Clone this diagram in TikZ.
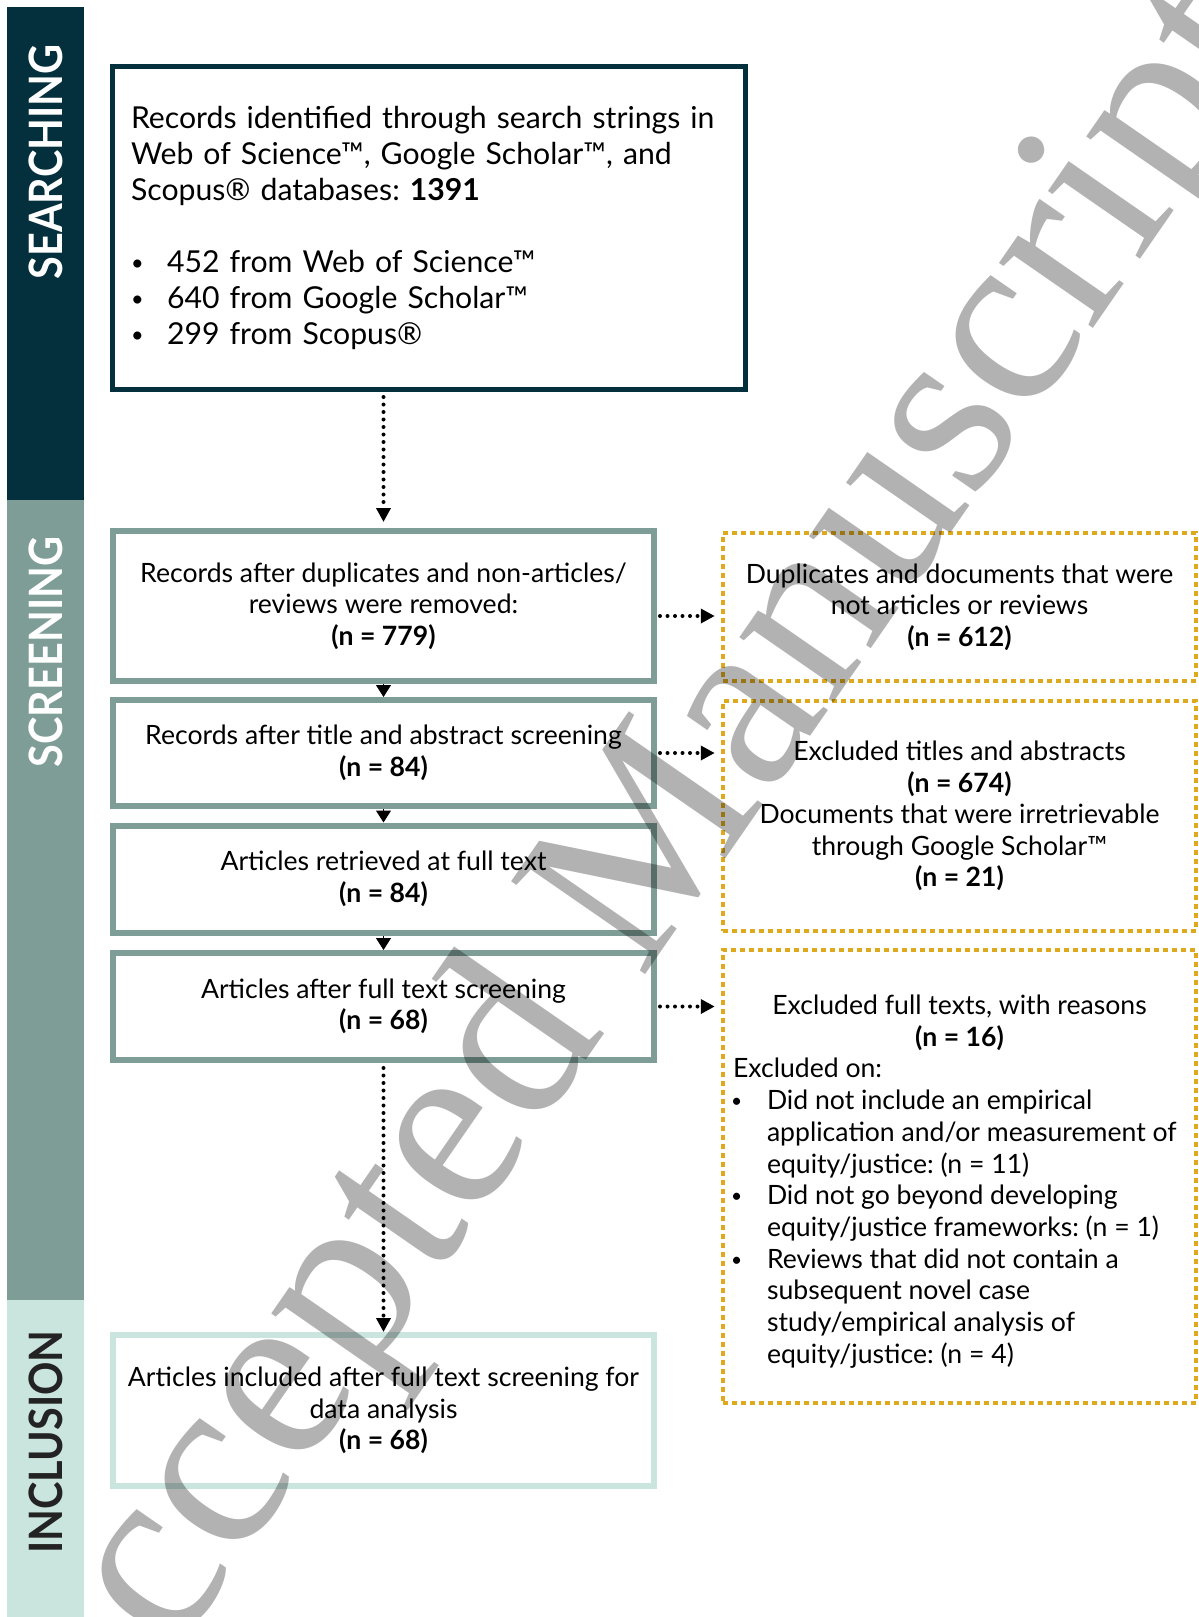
\documentclass[tikz,border=0pt]{standalone}
\usepackage{fontspec}
\setmainfont{Lato}
\newfontfamily\wmfont{Liberation Serif}
\usetikzlibrary{arrows.meta}
\definecolor{navy}{RGB}{4,48,61}
\definecolor{teal}{RGB}{126,157,150}
\definecolor{mint}{RGB}{201,229,221}
\definecolor{gold}{RGB}{222,169,28}
\definecolor{inkdark}{RGB}{35,35,35}
\newcommand{\smbul}{\raisebox{0.08em}{\scalebox{0.72}{•}}}
\frenchspacing
\begin{document}
\begin{tikzpicture}[x=1pt,y=-1pt,
  topbox/.style={draw=navy, line width=5pt, inner sep=0pt, minimum width=633pt, minimum height=323pt,
    text width=596pt, align=left, font=\fontsize{30.2}{36}\selectfont},
  scrbox/.style={draw=teal, line width=6pt, inner sep=0pt, minimum width=541pt, align=center,
    font=\fontsize{26.6}{31.5}\selectfont},
  incbox/.style={draw=mint, line width=6pt, inner sep=0pt, minimum width=541pt, align=center,
    font=\fontsize{26.6}{31.5}\selectfont},
  exbox/.style={draw=gold, line width=4.5pt, dash pattern=on 5pt off 4pt, inner sep=0pt,
    minimum width=473pt, font=\fontsize{26.6}{31.5}\selectfont},
  bandlabel/.style={rotate=90, font=\fontsize{46}{46}\selectfont\bfseries},
  dotline/.style={line width=4pt, dash pattern=on 0pt off 7.5pt, line cap=round,
    -{Triangle[width=14pt,length=14pt]}},
  solidtip/.style={line width=1pt, -{Triangle[width=15pt,length=12pt]}},
  wm/.style={text=black, opacity=0.3, font=\wmfont\fontsize{249}{249}\selectfont}
]
\useasboundingbox (0,0) rectangle (1199,1617);
\fill[white] (0,0) rectangle (1199,1617);
% phase bands
\fill[navy] (7,7) rectangle (84,500);
\fill[teal] (7,500) rectangle (84,1300);
\fill[mint] (7,1300) rectangle (84,1617);
\node[bandlabel, text=white] (lsearch) at (46,162) {\scalebox{0.9}[1]{SEARCHING}};
\node[bandlabel, text=white] (lscreen) at (46,652) {\scalebox{0.9}[1]{SCREENING}};
\node[bandlabel, text=inkdark] (lincl) at (46,1442) {\scalebox{0.9}[1]{INCLUSION}};

% top box
\node[topbox] (top) at (429,228) {%
Records identified through search strings in\\
Web of Science™, Google Scholar™, and\\
Scopus® databases: {\bfseries 1391}\\[36pt]
\makebox[36pt][l]{\smbul}452 from Web of Science™\\
\makebox[36pt][l]{\smbul}640 from Google Scholar™\\
\makebox[36pt][l]{\smbul}299 from Scopus®};

% screening boxes
\node[scrbox, minimum height=150pt] (A) at (383.5,606) {Records after duplicates and non-articles/\\reviews were removed:\\{\bfseries (n = 779)}};
\node[scrbox, minimum height=106pt] (B) at (383.5,753) {Records after title and abstract screening\\{\bfseries (n = 84)}};
\node[scrbox, minimum height=107pt] (C) at (383.5,879) {Articles retrieved at full text\\{\bfseries (n = 84)}};
\node[scrbox, minimum height=107pt] (D) at (383.5,1006.5) {Articles after full text screening\\{\bfseries (n = 68)}};
\node[incbox, minimum height=151pt] (E) at (383.5,1410.5) {Articles included after full text screening for\\data analysis\\{\bfseries (n = 68)}};

% exclusion boxes
\node[exbox, align=center, minimum height=148pt] (R1) at (959.5,607) {Duplicates and documents that were\\not articles or reviews\\{\bfseries (n = 612)}};
\node[exbox, align=center, minimum height=230pt] (R2) at (959.5,816) {Excluded titles and abstracts\\{\bfseries (n = 674)}\\Documents that were irretrievable\\through Google Scholar™\\{\bfseries (n = 21)}};
\node[exbox, minimum height=453pt] (R3) at (959.5,1176.5) {\parbox{453pt}{\fontsize{26.6}{31.7}\selectfont
\vspace*{10pt}%
\makebox[453pt]{Excluded full texts, with reasons}\\
\makebox[453pt]{\bfseries (n = 16)}\\
Excluded on:\\
\makebox[34pt][l]{\hspace*{-2pt}\smbul}Did not include an empirical\\
\hspace*{34pt}application and/or measurement of\\
\hspace*{34pt}equity/justice: (n = 11)\\
\makebox[34pt][l]{\hspace*{-2pt}\smbul}Did not go beyond developing\\
\hspace*{34pt}equity/justice frameworks: (n = 1)\\
\makebox[34pt][l]{\hspace*{-2pt}\smbul}Reviews that did not contain a\\
\hspace*{34pt}subsequent novel case\\
\hspace*{34pt}study/empirical analysis of\\
\hspace*{34pt}equity/justice: (n = 4)}};

% connectors
\draw[dotline, shorten <=5pt, shorten >=6pt] (top.south -| A.north) -- (A.north);
\draw[solidtip] (A.south) -- (B.north);
\draw[solidtip] (B.south) -- (C.north);
\draw[solidtip] (C.south) -- (D.north);
\draw[dotline, shorten <=5pt] (D.south) -- (E.north);
\draw[dotline, shorten <=3pt, shorten >=6pt] ([yshift=-10pt]A.east) -- ([yshift=-10pt]A.east -| R1.west);
\draw[dotline, shorten <=3pt, shorten >=6pt] (B.east) -- (B.east -| R2.west);
\draw[dotline, shorten <=3pt, shorten >=6pt] (D.east) -- (D.east -| R3.west);

% watermark
\node[wm, rotate=55.3] (wmark) at (630,892) {Accepted Manuscript};
\end{tikzpicture}
\end{document}
